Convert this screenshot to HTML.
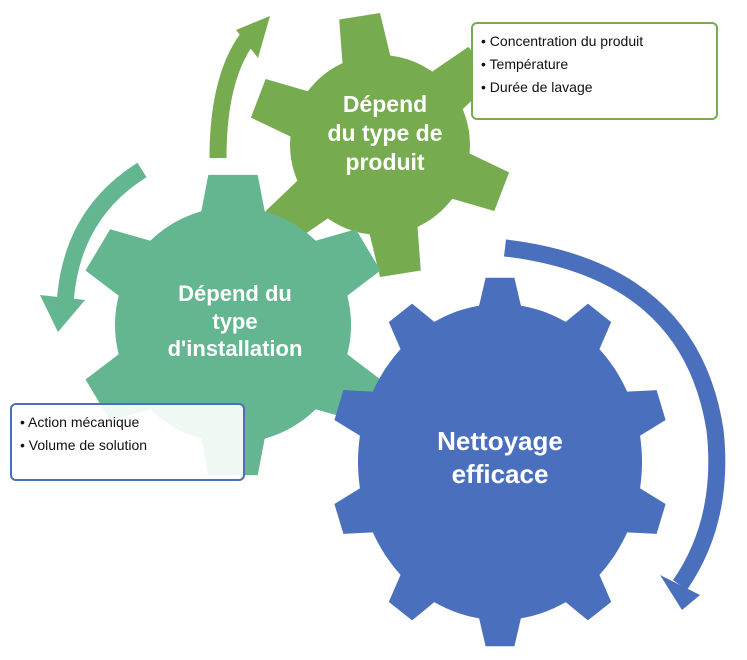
<!DOCTYPE html>
<html><head><meta charset="utf-8"><style>
body{margin:0;background:#fff;width:747px;height:660px;overflow:hidden;font-family:"Liberation Sans",sans-serif}
svg{position:absolute;left:0;top:0}
.box{position:absolute;background:#fff;border-radius:6px;font-size:14px;color:#111;line-height:23px;padding:6px 8px;box-sizing:border-box}
.lbl{position:absolute;color:#fff;font-weight:bold;text-align:center;line-height:1.25}
</style></head><body>
<svg id="s" width="747" height="660" viewBox="0 0 747 660">
<path d="M218,158 Q218,75 250,35" fill="none" stroke="#77ab4f" stroke-width="17"/>
<polygon points="236,30 270,16 258,58" fill="#77ab4f"/>
<path d="M142,170 Q70,215 65,305" fill="none" stroke="#63b690" stroke-width="17"/>
<polygon points="40,295 85,300 58,332" fill="#63b690"/>
<path d="M505,248 Q690,270 715,430 Q725,520 680,585" fill="none" stroke="#4a6fbd" stroke-width="17"/>
<polygon points="660,575 700,595 682,610" fill="#4a6fbd"/>
<g id="g"></g>
</svg>
<div class="lbl" style="left:325px;top:90px;width:120px;font-size:23px">Dépend<br>du type de<br>produit</div>
<div class="lbl" style="left:150px;top:280px;width:170px;font-size:22px">Dépend du<br>type<br>d'installation</div>
<div class="lbl" style="left:410px;top:425px;width:180px;font-size:26px">Nettoyage<br>efficace</div>
<div class="box" style="left:471px;top:22px;width:247px;height:98px;border:2px solid #77ab4f">• Concentration du produit<br>• Température<br>• Durée de lavage</div>
<div class="box" style="left:10px;top:403px;width:235px;height:78px;border:2px solid #4a6fbd;background:rgba(255,255,255,0.9)">• Action mécanique<br>• Volume de solution</div>
<script>
function gear(cx,cy,n,rx,ry,tx,ty,start,tw,col){
 let d="",step=360/n;
 for(let i=0;i<n;i++){
  let a=start+i*step, h=step/2;
  let pts=[[a-h,rx,ry],[a-tw*1.3,rx,ry],[a-tw*0.75,tx,ty],[a+tw*0.75,tx,ty],[a+tw*1.3,rx,ry],[a+h,rx,ry]];
  pts.forEach((p,j)=>{let r=p[0]*Math.PI/180;d+=(i==0&&j==0?"M":"L")+(cx+p[1]*Math.cos(r)).toFixed(1)+","+(cy+p[2]*Math.sin(r)).toFixed(1);});
 }
 let p=document.createElementNS("http://www.w3.org/2000/svg","path");
 p.setAttribute("d",d+"Z");p.setAttribute("fill",col);document.getElementById("g").appendChild(p);
 let e=document.createElementNS("http://www.w3.org/2000/svg","ellipse");
 e.setAttribute("cx",cx);e.setAttribute("cy",cy);e.setAttribute("rx",rx);e.setAttribute("ry",ry);e.setAttribute("fill",col);
 document.getElementById("g").appendChild(e);
}
gear(380,145,6,90,90,132,132,-99,12,"#77ab4f");
gear(233,325,6,118,118,158,152,-90,12,"#63b690");
gear(500,462,10,142,158,170,185,-90,6.5,"#4a6fbd");
</script>
</body></html>
